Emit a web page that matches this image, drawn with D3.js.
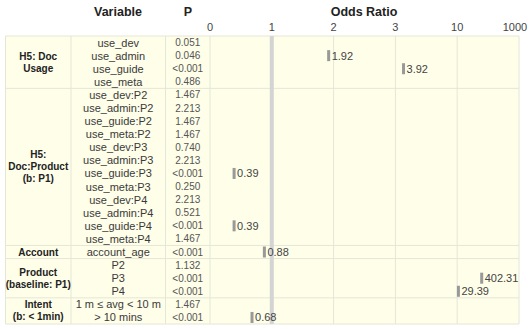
<!DOCTYPE html>
<html lang="en">
  <head>
    <meta charset="utf-8">
    <title>Odds Ratio Table</title>
    <script src="https://d3js.org/d3.v7.min.js"></script>
    <style>
      body { margin: 0; background: #fff; }
      text { font-family: "Liberation Sans", Arial, sans-serif; }
    </style>
  </head>
  <body>
  <script>
  const width = 532;
  const height = 329;

  // data
  const groupLabels = [
    ["H5: Doc", "Usage"],
    ["H5:", "Doc:Product", "(b: P1)"],
    ["Account"],
    ["Product", "(baseline: P1)"],
    ["Intent", "(b: < 1min)"]
  ];
  const groupSizes = [4, 12, 1, 3, 2];
  const variables = [
    "use_dev", "use_admin", "use_guide", "use_meta",
    "use_dev:P2", "use_admin:P2", "use_guide:P2", "use_meta:P2",
    "use_dev:P3", "use_admin:P3", "use_guide:P3", "use_meta:P3",
    "use_dev:P4", "use_admin:P4", "use_guide:P4", "use_meta:P4",
    "account_age",
    "P2", "P3", "P4",
    "1 m \u2264 avg < 10 m", "> 10 mins"
  ];
  const pValues = [
    "0.051", "0.046", "<0.001", "0.486",
    "1.467", "2.213", "1.467", "1.467",
    "0.740", "2.213", "<0.001", "0.250",
    "2.213", "0.521", "<0.001", "1.467",
    "<0.001",
    "1.132", "<0.001", "<0.001",
    "1.467", "<0.001"
  ];
  const oddsRatios = [
    null, 1.92, 3.92, null,
    null, null, null, null,
    null, null, 0.39, null,
    null, null, 0.39, null,
    0.88,
    null, 402.31, 29.39,
    null, 0.68
  ];
  const oddsTicks = [0, 1, 2, 3, 10, 1000];

  // layout
  const tblLeft = 5.5, colVar = 71, colP = 165.5, plotL = 210, plotR = 519;
  const tblTop = 36, tblBottom = 324;

  const svg = d3.select(document.body).append('svg').attr('width', width).attr('height', height);

  const y = d3.scaleBand().domain(d3.range(variables.length)).range([tblTop, tblBottom]);
  const x = d3.scaleLinear()
    .domain(oddsTicks)
    .range(oddsTicks.map((d, i) => plotL + i * (plotR - plotL) / (oddsTicks.length - 1)));

  // background
  svg.append('rect')
    .attr('x', tblLeft).attr('y', tblTop)
    .attr('width', plotR - tblLeft).attr('height', tblBottom - tblTop)
    .attr('fill', '#fefee9');

  // vertical grid in plot
  svg.selectAll('.vgrid').data(oddsTicks.filter(d => d !== 1)).enter()
    .append('line')
    .attr('x1', d => x(d)).attr('x2', d => x(d))
    .attr('y1', tblTop).attr('y2', tblBottom)
    .attr('stroke', '#e6e6d8');

  // column borders
  svg.selectAll('.cgrid').data([tblLeft, colVar, colP]).enter()
    .append('line')
    .attr('x1', d => d).attr('x2', d => d)
    .attr('y1', tblTop).attr('y2', tblBottom)
    .attr('stroke', '#e6e6d8');

  // group borders
  const starts = [0];
  groupSizes.forEach(n => starts.push(starts[starts.length - 1] + n));
  const rowY = i => i < variables.length ? y(i) : tblBottom;
  svg.selectAll('.hgrid').data(starts).enter()
    .append('line')
    .attr('x1', tblLeft).attr('x2', plotR)
    .attr('y1', d => rowY(d)).attr('y2', d => rowY(d))
    .attr('stroke', '#e6e6d8');

  // reference line at 1
  svg.append('line')
    .attr('x1', x(1)).attr('x2', x(1))
    .attr('y1', tblTop).attr('y2', tblBottom)
    .attr('stroke', '#d4d4d4').attr('stroke-width', 4);

  // headers
  const head = svg.append('g').attr('font-size', 12.5).attr('font-weight', 'bold').attr('fill', '#222')
    .attr('text-anchor', 'middle');
  head.append('text').attr('x', 118).attr('y', 16).text('Variable');
  head.append('text').attr('x', 188).attr('y', 16).text('P');
  head.append('text').attr('x', 364).attr('y', 16).text('Odds Ratio');

  // axis ticks
  svg.selectAll('.tick').data(oddsTicks).enter()
    .append('text')
    .attr('x', d => x(d) + (d === 1000 ? -4 : 0))
    .attr('y', 31)
    .attr('text-anchor', 'middle')
    .attr('font-size', 11)
    .attr('fill', '#444')
    .text(d => d);

  // group labels, one text per line
  const groupLines = [];
  groupLabels.forEach((lines, i) => {
    const mid = (rowY(starts[i]) + rowY(starts[i + 1])) / 2;
    lines.forEach((t, j) => groupLines.push({ t: t, y: mid + 3.5 + (j - (lines.length - 1) / 2) * 12 }));
  });
  svg.selectAll('.group').data(groupLines).enter()
    .append('text')
    .attr('x', (tblLeft + colVar) / 2)
    .attr('y', d => d.y)
    .attr('text-anchor', 'middle')
    .attr('font-size', 10)
    .attr('font-weight', 'bold')
    .attr('fill', '#222')
    .text(d => d.t);

  // variable names
  svg.selectAll('.var').data(variables).enter()
    .append('text')
    .attr('x', (colVar + colP) / 2)
    .attr('y', (d, i) => y(i) + y.bandwidth() / 2 + 4)
    .attr('text-anchor', 'middle')
    .attr('font-size', 11)
    .attr('fill', '#3a3a3a')
    .text(d => d);

  // p values
  svg.selectAll('.pval').data(pValues).enter()
    .append('text')
    .attr('x', (colP + plotL) / 2)
    .attr('y', (d, i) => y(i) + y.bandwidth() / 2 + 3.5)
    .attr('text-anchor', 'middle')
    .attr('font-size', 10)
    .attr('fill', '#555')
    .text(d => d);

  // odds ratio marks
  const marks = oddsRatios.map((v, i) => ({ v: v, i: i })).filter(d => d.v !== null);
  svg.selectAll('.bar').data(marks).enter()
    .append('rect')
    .attr('x', d => x(d.v) - 1.5)
    .attr('y', d => y(d.i) + y.bandwidth() / 2 - 5.5)
    .attr('width', 3)
    .attr('height', 11)
    .attr('fill', '#999');

  svg.selectAll('.orlabel').data(marks).enter()
    .append('text')
    .attr('x', d => x(d.v) + 3)
    .attr('y', d => y(d.i) + y.bandwidth() / 2 + 4)
    .attr('font-size', 11)
    .attr('fill', '#444')
    .text(d => d.v.toFixed(2));
</script>
  </body>
</html>
